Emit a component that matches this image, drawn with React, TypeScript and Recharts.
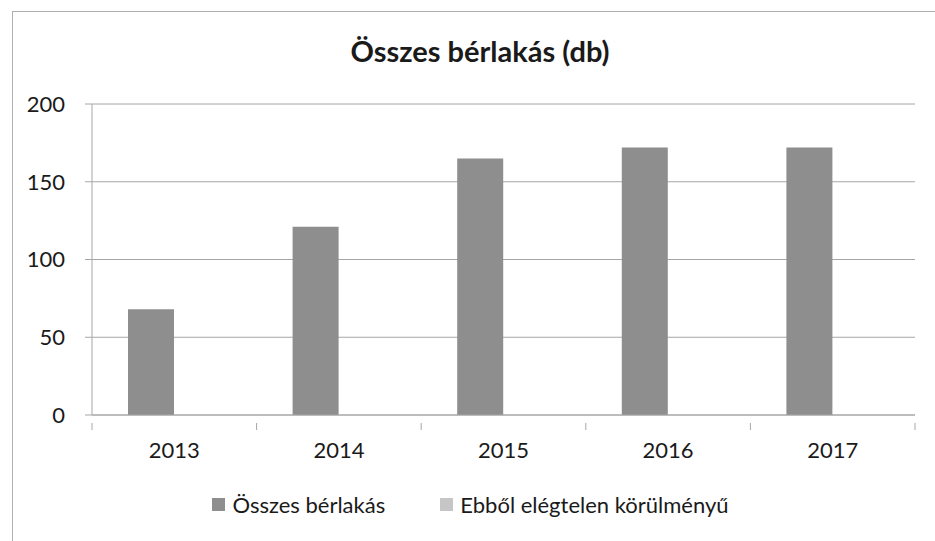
import React from 'react';
import {
  BarChart,
  Bar,
  XAxis,
  YAxis,
  CartesianGrid,
  Legend,
} from 'recharts';

const years = ['2013', '2014', '2015', '2016', '2017'];
const osszesBerlakas = [68, 121, 165, 172, 172];
const elegtelen = [0, 0, 0, 0, 0];
const yTicks = [0, 50, 100, 150, 200];
const seriesNames = ['Összes bérlakás', 'Ebből elégtelen körülményű'];

const chartData = years.map((year, i) => ({
  year,
  osszes: osszesBerlakas[i],
  elegtelen: elegtelen[i],
}));

const FONT = 'Lato, "Open Sans", sans-serif';
const TEXT = '#1a1a1a';
const BAR_DARK = '#8e8e8e';
const BAR_LIGHT = '#c6c6c6';
const GRID = '#a6a6a6';

// x tick: label at category centre, small tick marks at category borders (like Excel)
function YearTick(props: any) {
  const { x, y, payload, index } = props;
  const band = (915 - 92) / years.length;
  return (
    <g>
      <line x1={x - band / 2} y1={y} x2={x - band / 2} y2={y + 7} stroke={GRID} />
      {index === years.length - 1 && (
        <line x1={x + band / 2} y1={y} x2={x + band / 2} y2={y + 7} stroke={GRID} />
      )}
      <text x={x} y={y + 35} textAnchor="middle" fill={TEXT} fontSize={22} fontFamily={FONT}>
        {payload.value}
      </text>
    </g>
  );
}

function LegendContent(props: any) {
  const { payload } = props;
  // keep the series order of the source chart
  const items = seriesNames
    .map((name) => (payload || []).find((p: any) => p.value === name))
    .filter(Boolean);
  return (
    <div style={{ display: 'flex', justifyContent: 'center', gap: 55, paddingLeft: 6 }}>
      {items.map((entry: any) => (
        <div key={entry.value} style={{ display: 'flex', alignItems: 'center', gap: 7 }}>
          <div style={{ width: 13, height: 13, backgroundColor: entry.color }} />
          <span style={{ color: TEXT, fontSize: 22, fontFamily: FONT }}>{entry.value}</span>
        </div>
      ))}
    </div>
  );
}

export default function App() {
  return (
    <div
      style={{
        position: 'absolute',
        left: 0,
        top: 0,
        width: 935,
        height: 541,
        background: '#ffffff',
        overflow: 'hidden',
      }}
    >
      {/* chart frame */}
      <div
        style={{
          position: 'absolute',
          left: 12,
          top: 11,
          width: 940,
          height: 560,
          border: '1px solid #b0b0b0',
        }}
      />
      <div
        style={{
          position: 'absolute',
          left: 0,
          top: 33,
          width: 960,
          textAlign: 'center',
          fontFamily: FONT,
          fontWeight: 700,
          fontSize: 29,
          color: TEXT,
        }}
      >
        Összes bérlakás (db)
      </div>
      <BarChart
        width={935}
        height={541}
        data={chartData}
        margin={{ top: 104, right: 20, bottom: 66, left: 0 }}
        barGap={0}
        style={{ position: 'absolute', left: 0, top: 0 }}
      >
        <CartesianGrid vertical={false} stroke={GRID} />
        <XAxis
          dataKey="year"
          axisLine={{ stroke: GRID }}
          tickLine={false}
          tick={<YearTick />}
          interval={0}
          height={60}
        />
        <YAxis
          domain={[0, 200]}
          ticks={yTicks}
          width={92}
          axisLine={{ stroke: GRID }}
          tickLine={{ stroke: GRID }}
          tickSize={7}
          tickMargin={20}
          tick={{ fill: TEXT, fontSize: 22, fontFamily: FONT }}
        />
        <Legend
          verticalAlign="middle"
          layout="horizontal"
          align="center"
          content={<LegendContent />}
          wrapperStyle={{ top: 491, left: 0, width: 935 }}
        />
        <Bar
          dataKey="osszes"
          name={seriesNames[0]}
          fill={BAR_DARK}
          barSize={46}
          isAnimationActive={false}
        />
        <Bar
          dataKey="elegtelen"
          name={seriesNames[1]}
          fill={BAR_LIGHT}
          barSize={46}
          isAnimationActive={false}
        />
      </BarChart>
    </div>
  );
}
